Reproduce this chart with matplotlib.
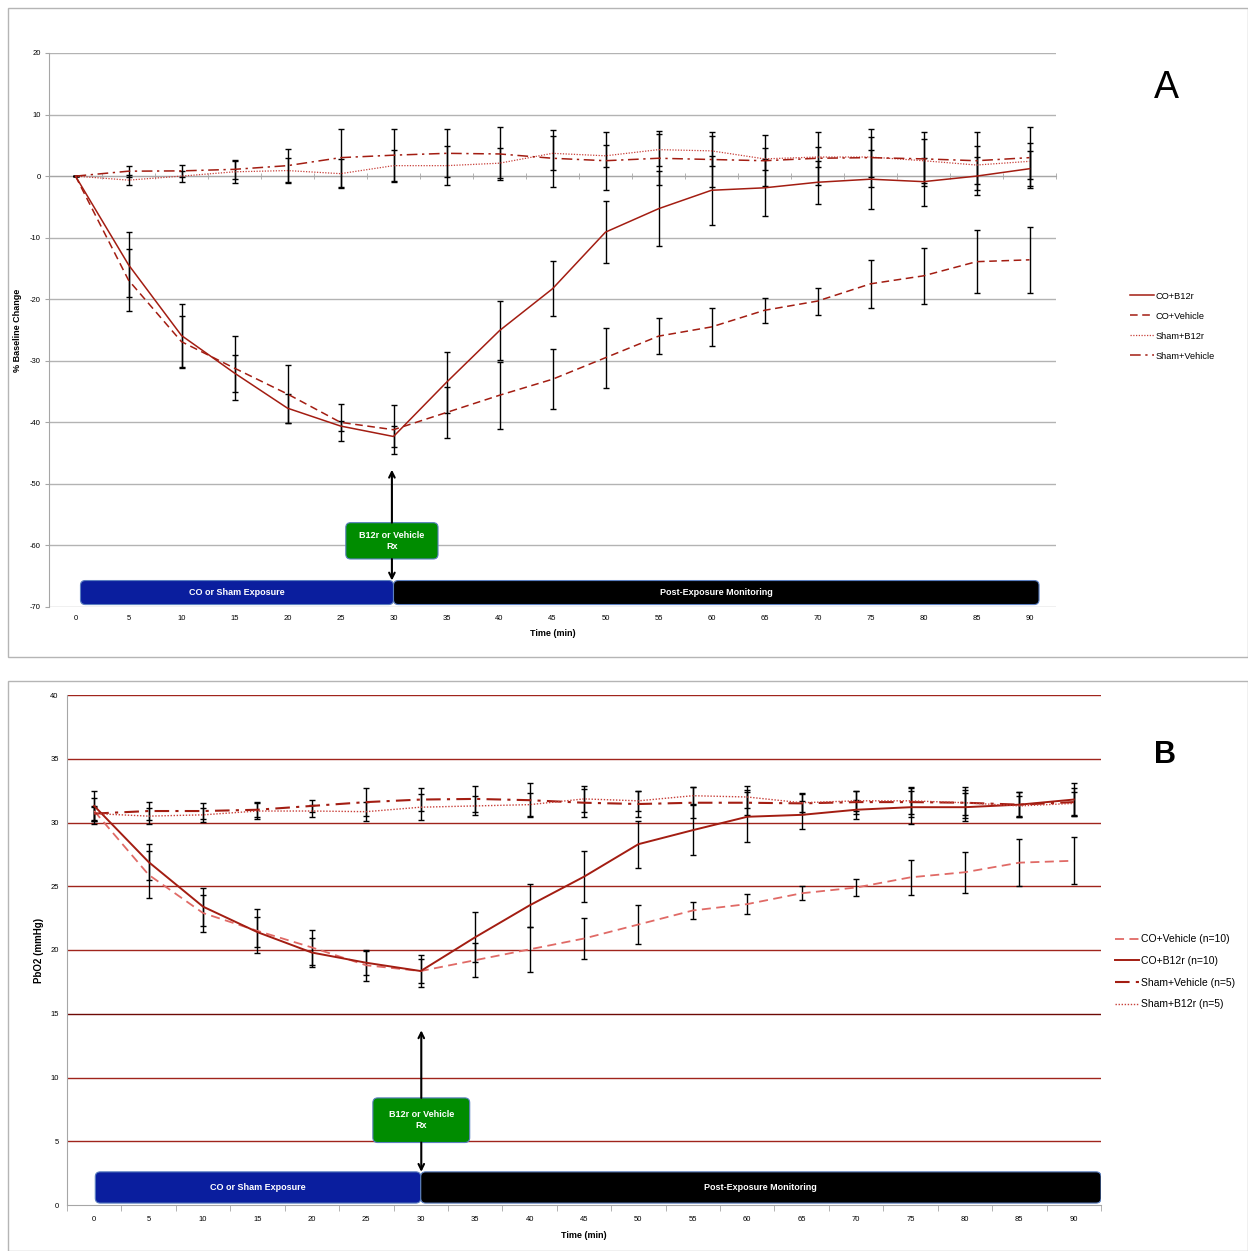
import numpy as np
import matplotlib
matplotlib.use('Agg')
from matplotlib import pyplot as plt
from matplotlib.patches import FancyBboxPatch, Rectangle
from matplotlib.lines import Line2D

plt.rcParams['font.family'] = ['Liberation Sans', 'DejaVu Sans']
plt.rcParams['axes.unicode_minus'] = False

time = list(range(0, 95, 5))

# panel A: % baseline change
a_co_b12r = [0, -14.4, -25.9, -32.0, -37.7, -40.6, -42.3, -33.5, -25.1, -18.3,
             -9.1, -5.3, -2.3, -1.9, -1.0, -0.5, -0.9, 0.0, 1.2]
a_co_b12r_err = [0, 5.3, 5.1, 3.0, 2.35, 0.75, 1.65, 4.95, 4.75, 4.45,
                 5.0, 6.1, 5.6, 4.6, 3.5, 4.8, 3.9, 3.1, 2.8]
a_co_veh = [0, -16.9, -26.9, -31.2, -35.4, -40.0, -41.2, -38.4, -35.6, -33.0,
            -29.5, -26.0, -24.5, -21.8, -20.3, -17.5, -16.2, -13.9, -13.6]
a_co_veh_err = [0, 5.0, 4.2, 5.25, 4.65, 3.05, 3.95, 4.1, 5.45, 4.9,
                4.85, 2.9, 3.1, 2.05, 2.2, 3.9, 4.55, 5.1, 5.35]
a_sham_b12r = [0, -0.65, 0.0, 0.7, 0.9, 0.4, 1.7, 1.7, 2.1, 3.7,
               3.3, 4.3, 4.1, 2.8, 3.1, 3.1, 2.5, 1.8, 2.4]
a_sham_b12r_err = [0, 0.85, 0.9, 1.8, 2.0, 2.4, 2.5, 3.15, 2.45, 2.75,
                   1.8, 2.6, 2.4, 1.8, 1.65, 3.2, 3.6, 3.1, 2.9]
a_sham_veh = [0, 0.8, 0.85, 1.1, 1.7, 3.0, 3.4, 3.7, 3.6, 2.9,
              2.5, 2.9, 2.7, 2.5, 2.9, 3.0, 2.8, 2.5, 3.0]
a_sham_veh_err = [0, 0.9, 1.0, 1.5, 2.7, 4.7, 4.3, 3.9, 4.3, 4.65,
                  4.7, 4.35, 4.5, 4.1, 4.3, 4.7, 4.4, 4.7, 4.9]

# panel B: PbO2 (mmHg)
b_co_veh = [30.9, 25.9, 22.9, 21.5, 20.2, 18.8, 18.35, 19.2, 20.05, 20.9,
            22.0, 23.1, 23.6, 24.45, 24.9, 25.7, 26.1, 26.85, 27.0]
b_co_veh_err = [1.0, 1.85, 1.45, 1.75, 1.35, 1.2, 1.25, 1.35, 1.75, 1.6,
                1.55, 0.65, 0.8, 0.55, 0.7, 1.35, 1.6, 1.85, 1.85]
b_co_b12r = [31.3, 26.9, 23.4, 21.4, 19.8, 19.0, 18.35, 21.0, 23.5, 25.75,
             28.3, 29.4, 30.45, 30.6, 31.0, 31.2, 31.2, 31.4, 31.8]
b_co_b12r_err = [1.2, 1.4, 1.5, 1.2, 1.15, 0.95, 0.95, 1.95, 1.7, 2.0,
                 1.85, 1.95, 1.95, 1.1, 0.75, 1.3, 1.1, 1.0, 1.3]
b_sham_veh = [30.7, 30.9, 30.9, 31.0, 31.3, 31.6, 31.8, 31.85, 31.75, 31.55,
              31.45, 31.55, 31.55, 31.5, 31.6, 31.6, 31.55, 31.4, 31.6]
b_sham_veh_err = [0.6, 0.7, 0.6, 0.6, 0.45, 1.1, 0.9, 1.05, 1.35, 1.1,
                  1.05, 1.2, 1.0, 0.8, 0.9, 1.2, 1.2, 1.0, 1.1]
b_sham_b12r = [30.7, 30.5, 30.6, 30.9, 30.9, 30.85, 31.2, 31.3, 31.4, 31.85,
               31.7, 32.1, 32.0, 31.55, 31.7, 31.7, 31.55, 31.3, 31.5]
b_sham_b12r_err = [0.5, 0.6, 0.55, 0.6, 0.45, 0.75, 1.0, 0.75, 0.9, 1.0,
                   0.8, 0.65, 0.9, 0.7, 0.8, 1.0, 1.0, 0.8, 0.9]

dark_red = '#a31d12'
light_red = '#e06a66'
mid_red = '#c8403a'
solid = '-'
dashed = (0, (5, 3))
dotted = (0, (1, 1.2))
dashdot = (0, (7, 3, 1.5, 3))
grey = '#a6a6a6'

fig = plt.figure(figsize=(12.48, 12.51), dpi=100)

# outer frames round each panel
fig.add_artist(Rectangle((8 / 1248, 1 - 657 / 1251), 1240 / 1248, 649 / 1251,
                         transform=fig.transFigure, fill=False, ec='#b5b5b5', lw=1))
fig.add_artist(Rectangle((8 / 1248, 0), 1240 / 1248, 1 - 681 / 1251,
                         transform=fig.transFigure, fill=False, ec='#b5b5b5', lw=1))


def draw_series(ax, y, err, color, ls, lw):
    ax.errorbar(time, y, yerr=err, color=color, ls=ls, lw=lw, ecolor='black',
                elinewidth=1, capsize=2.5, capthick=1, zorder=3)


def draw_boxes(ax, exp_box, mon_box, rx_box, arrow_top, aspect):
    # exp_box / mon_box / rx_box: (x0, y0, x1, y1) in data units
    specs = [(exp_box, '#0a1e9e', 'CO or Sham Exposure'),
             (mon_box, '#000000', 'Post-Exposure Monitoring'),
             (rx_box, '#008c00', 'B12r or Vehicle\nRx')]
    for (x0, y0, x1, y1), fc, txt in specs:
        box = FancyBboxPatch((x0, y0), x1 - x0, y1 - y0,
                             boxstyle='round,pad=0,rounding_size=0.45',
                             mutation_aspect=aspect, fc=fc, ec='#5b7fc0',
                             lw=0.8, zorder=4)
        ax.add_patch(box)
        ax.text((x0 + x1) / 2, (y0 + y1) / 2, txt, color='white', fontsize=6.5,
                fontweight='bold', ha='center', va='center', zorder=5,
                linespacing=1.3)
    xr = (rx_box[0] + rx_box[2]) / 2
    arrow = dict(arrowstyle='->', color='black', lw=1.5, shrinkA=0, shrinkB=0)
    ax.annotate('', xy=(xr, arrow_top), xytext=(xr, rx_box[3]),
                arrowprops=arrow, zorder=5)
    ax.annotate('', xy=(xr, mon_box[3]), xytext=(xr, rx_box[1]),
                arrowprops=arrow, zorder=5)


# ---------------- panel A ----------------
ax_a = fig.add_axes([49 / 1248, 1 - 607 / 1251, 1007 / 1248, 554 / 1251])
ax_a.set_xlim(-2.5, 92.5)
ax_a.set_ylim(-70, 20)
ax_a.set_yticks(range(-70, 21, 10))
ax_a.grid(axis='y', color='#b3b3b3', lw=1)
ax_a.set_axisbelow(True)
for side in ('top', 'right'):
    ax_a.spines[side].set_visible(False)
ax_a.spines['left'].set_color(grey)
ax_a.spines['bottom'].set_color(grey)
ax_a.spines['bottom'].set_position(('data', 0))
ax_a.set_xticks(time)
ax_a.set_xticklabels([])
ax_a.set_xticks(np.arange(-2.5, 93, 5), minor=True)
ax_a.tick_params(axis='x', which='major', length=0)
ax_a.tick_params(axis='x', which='minor', length=4, direction='inout', color=grey)
ax_a.tick_params(axis='y', length=3, color=grey, labelsize=5.5, pad=3)

sec_a = ax_a.secondary_xaxis(0.0)
sec_a.set_xticks(time)
sec_a.tick_params(length=0, labelsize=5.5, pad=6)
sec_a.spines['bottom'].set_visible(False)
sec_a.set_xlabel('Time (min)', fontsize=6.5, fontweight='bold', labelpad=5)

draw_series(ax_a, a_co_b12r, a_co_b12r_err, dark_red, solid, 1.1)
draw_series(ax_a, a_co_veh, a_co_veh_err, dark_red, dashed, 1.1)
draw_series(ax_a, a_sham_b12r, a_sham_b12r_err, mid_red, dotted, 0.9)
draw_series(ax_a, a_sham_veh, a_sham_veh_err, dark_red, dashdot, 1.1)

ax_a.set_ylabel('% Baseline Change', fontsize=6.5, fontweight='bold')
ax_a.yaxis.set_label_coords(-0.027, 0.5)

draw_boxes(ax_a, (0.47, -69.6, 30, -65.7), (30, -69.6, 90.9, -65.7),
           (25.5, -62.2, 34.2, -56.3), -47.7, 10.6 / 6.16)

ax_a.text(1166 / 1248, 1 - 88 / 1251, 'A', transform=fig.transFigure,
          fontsize=27, ha='center', va='center')

handles_a = [Line2D([], [], color=dark_red, ls=solid, lw=1.1),
             Line2D([], [], color=dark_red, ls=dashed, lw=1.1),
             Line2D([], [], color=mid_red, ls=dotted, lw=0.9),
             Line2D([], [], color=dark_red, ls=dashdot, lw=1.1)]
fig.legend(handles_a, ['CO+B12r', 'CO+Vehicle', 'Sham+B12r', 'Sham+Vehicle'],
           loc='upper left', bbox_to_anchor=(1126 / 1248, 1 - 288 / 1251),
           frameon=False, fontsize=6.7, handlelength=2.6, handletextpad=0.2,
           labelspacing=1.18, borderaxespad=0)

# ---------------- panel B ----------------
ax_b = fig.add_axes([67 / 1248, 1 - 1205 / 1251, 1034 / 1248, 510 / 1251])
ax_b.set_xlim(-2.5, 92.5)
ax_b.set_ylim(0, 40)
ax_b.set_yticks(range(0, 41, 5))
ax_b.grid(axis='y', color='#a0241c', lw=1)
ax_b.set_axisbelow(True)
grid_b = ax_b.yaxis.get_gridlines()
grid_b[0].set_visible(False)
grid_b[3].set_color('#6e0a05')
for side in ('top', 'right'):
    ax_b.spines[side].set_visible(False)
ax_b.spines['left'].set_color(grey)
ax_b.spines['bottom'].set_color(grey)
ax_b.set_xticks(time)
ax_b.set_xticks(np.arange(-2.5, 93, 5), minor=True)
ax_b.tick_params(axis='x', which='major', length=0, labelsize=5.5, pad=8)
ax_b.tick_params(axis='x', which='minor', length=4, direction='out', color=grey)
ax_b.tick_params(axis='y', length=0, labelsize=5.5, pad=6)

draw_series(ax_b, b_co_veh, b_co_veh_err, light_red, dashed, 1.3)
draw_series(ax_b, b_co_b12r, b_co_b12r_err, dark_red, solid, 1.4)
draw_series(ax_b, b_sham_veh, b_sham_veh_err, dark_red, dashdot, 1.5)
draw_series(ax_b, b_sham_b12r, b_sham_b12r_err, mid_red, dotted, 1.0)

ax_b.set_xlabel('Time (min)', fontsize=6.5, fontweight='bold', labelpad=6)
ax_b.set_ylabel('PbO2 (mmHg)', fontsize=7, fontweight='bold')
ax_b.yaxis.set_label_coords(-0.022, 0.5)

draw_boxes(ax_b, (0.1, 0.15, 30, 2.6), (30, 0.15, 92.5, 2.6),
           (25.6, 4.9, 34.5, 8.4), 13.7, 10.89 / 12.75)

ax_b.text(1165 / 1248, 1 - 755 / 1251, 'B', transform=fig.transFigure,
          fontsize=22, fontweight='bold', ha='center', va='center')

handles_b = [Line2D([], [], color=light_red, ls=dashed, lw=1.3),
             Line2D([], [], color=dark_red, ls=solid, lw=1.4),
             Line2D([], [], color=dark_red, ls=dashdot, lw=1.5),
             Line2D([], [], color=mid_red, ls=dotted, lw=1.0)]
fig.legend(handles_b, ['CO+Vehicle (n=10)', 'CO+B12r (n=10)',
                       'Sham+Vehicle (n=5)', 'Sham+B12r (n=5)'],
           loc='upper left', bbox_to_anchor=(1111 / 1248, 1 - 930 / 1251),
           frameon=False, fontsize=7.5, handlelength=2.3, handletextpad=0.15,
           labelspacing=1.12, borderaxespad=0)

fig.savefig('out.png', dpi=100)
